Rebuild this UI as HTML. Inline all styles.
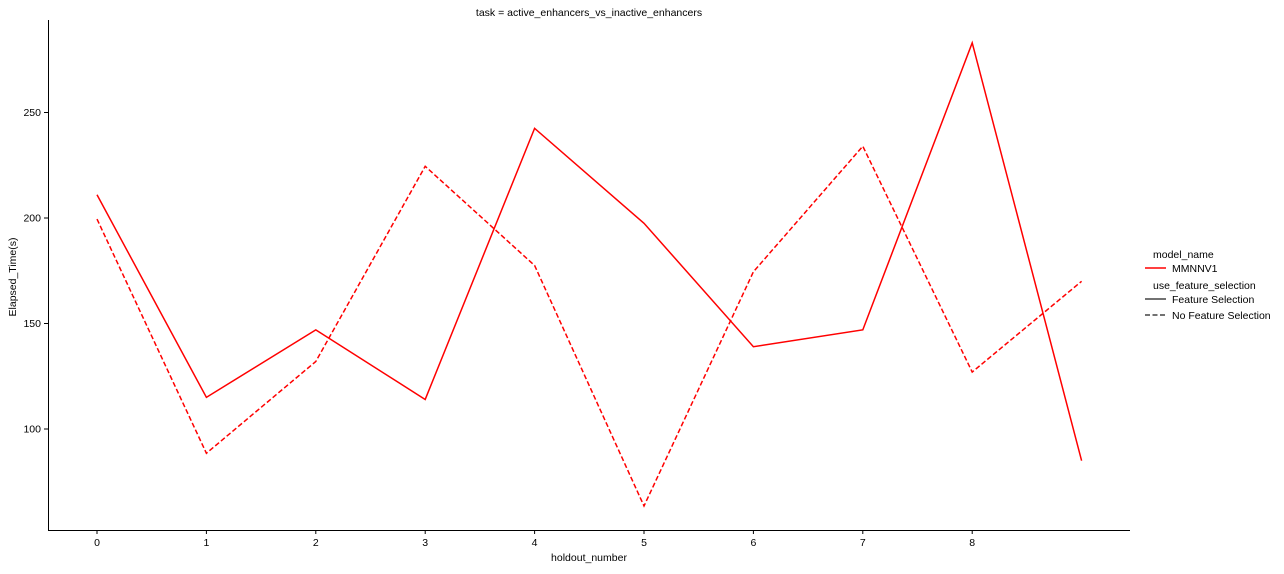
<!DOCTYPE html>
<html><head><meta charset="utf-8"><style>
body{margin:0;background:#fff;font-family:"Liberation Sans",sans-serif;}
svg text{font-family:"Liberation Sans",sans-serif;font-size:10.5px;fill:#000;}
</style></head><body>
<svg id="chart" width="1284" height="569"></svg>
<script>
const categories=[0,1,2,3,4,5,6,7,8,9];
const xTickLabels=["0","1","2","3","4","5","6","7","8"];
const featureSelection=[211,115,147,114,242.5,197.5,139,147,283,85];
const noFeatureSelection=[199.5,88.5,132,224.5,177.5,63.5,174.5,234,127,170];
const yTicks=[100,150,200,250];
const svg=document.getElementById('chart');
const NS='http://www.w3.org/2000/svg';
function x(v){return 97+v*109.4;}
function y(v){return 429-(v-100)*2.11;}
function mk(tag,attrs,parent){const e=document.createElementNS(NS,tag);for(const k in attrs)e.setAttribute(k,attrs[k]);(parent||svg).appendChild(e);return e;}
let t=mk('text',{x:589,y:16,'text-anchor':'middle'});t.textContent='task = active_enhancers_vs_inactive_enhancers';


let ax=mk('path',{d:'M48.5,20 V530.5 H1130',fill:'none',stroke:'#000','stroke-width':1});


xTickLabels.forEach((l,i)=>{
 mk('line',{x1:x(i),x2:x(i),y1:530,y2:534,stroke:'#000'});
 const tt=mk('text',{x:x(i),y:546,'text-anchor':'middle'});tt.textContent=l;
 
 
});
yTicks.forEach(v=>{
 mk('line',{x1:44,x2:48,y1:y(v),y2:y(v),stroke:'#000'});
 const tt=mk('text',{x:41,y:y(v)+3.5,'text-anchor':'end'});tt.textContent=v;
 
 
});
t=mk('text',{x:589,y:561,'text-anchor':'middle'});t.textContent='holdout_number';


t=mk('text',{x:16,y:277,'text-anchor':'middle',transform:'rotate(-90 16 277)'});t.textContent='Elapsed_Time(s)';


function line(vals,dash,name){
 const p=mk('path',{d:vals.map((v,i)=>(i?'L':'M')+x(categories[i])+','+y(v)).join(' '),fill:'none',stroke:'#ff0000','stroke-width':1.5,'stroke-dasharray':dash});
 
 
}
line(featureSelection,'none','line-feature-selection');
line(noFeatureSelection,'5,2.5','line-no-feature-selection');
const g=mk('g',{});


const items=[['model_name',null,1153,258],['MMNNV1','#ff0000',1172,272],['use_feature_selection',null,1153,289],['Feature Selection','#444',1172,303],['No Feature Selection','#444',1172,319]];
items.forEach((it,i)=>{
 const tt=mk('text',{x:it[2],y:it[3]},g);tt.textContent=it[0];
 if(it[1]){mk('line',{x1:1145,x2:1166,y1:it[3]-4,y2:it[3]-4,stroke:it[1],'stroke-width':1.5,'stroke-dasharray':i==4?'5,2.5':'none'},g);}
});
</script>
</body></html>
